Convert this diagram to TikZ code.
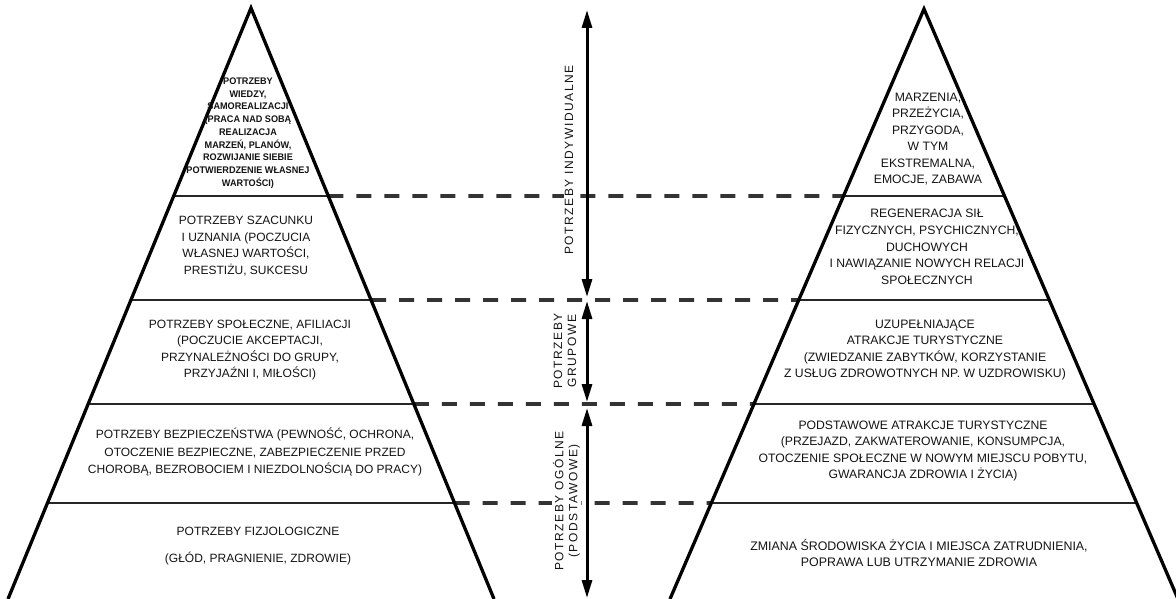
\documentclass[tikz,border=0pt]{standalone}
\usepackage{fontspec}
\setmainfont{Liberation Sans}
\newfontfamily\spacedfont[LetterSpace=13]{Liberation Sans}
\newfontfamily\densefont[FakeStretch=0.95]{Liberation Sans Bold}
\usetikzlibrary{arrows.meta,calc}
\begin{document}
\begin{tikzpicture}[x=1pt,y=-1pt,
  edge/.style={line width=3.3pt,line join=miter},
  levelline/.style={line width=2.6pt,black!85},
  dashlink/.style={line width=3.6pt,black!80,dash pattern=on 15pt off 13pt},
  spanarrow/.style={line width=3pt,{Triangle[length=18pt,width=10pt]}-{Triangle[length=18pt,width=10pt]}},
  txt/.style={align=center,inner sep=0pt,text=black!92,font=\fontsize{12}{16.6}\selectfont},
  rtxt/.style={txt,font=\fontsize{12.2}{16.4}\selectfont},
  smalltxt/.style={align=center,inner sep=0pt,text=black!92,font=\densefont\fontsize{9.6}{12.7}\selectfont},
  vlab/.style={align=center,inner sep=1pt,fill=white,rotate=90,text=black!92,font=\spacedfont\fontsize{12}{14}\selectfont}]
\useasboundingbox (0,0) rectangle (1176,599);
\clip (0,0) rectangle (1176,599);
\fill[white] (0,0) rectangle (1176,599);
% pyramid corners
\coordinate (LA) at (251,8);
\coordinate (LL) at (8,599);
\coordinate (LR) at (494,599);
\coordinate (RA) at (924,9);
\coordinate (RL) at (670,599);
\coordinate (RR) at (1178,599);
% level points
\foreach \y/\n in {196/1,300/2,404/3,503/4} {
  \coordinate (Ll\n) at ($(LA)!{(\y-8)/591}!(LL)$);
  \coordinate (Lr\n) at ($(LA)!{(\y-8)/591}!(LR)$);
  \coordinate (Rl\n) at ($(RA)!{(\y-9)/590}!(RL)$);
  \coordinate (Rr\n) at ($(RA)!{(\y-9)/590}!(RR)$);
}
\foreach \n in {1,2,3,4} {
  \draw[levelline] (Ll\n) -- (Lr\n);
  \draw[levelline] (Rl\n) -- (Rr\n);
  \draw[dashlink] (Lr\n) -- (Rl\n);
}
\draw[edge] (LL) -- (LA) -- (LR);
\draw[edge] (RL) -- (RA) -- (RR);
% labels of the spans
\node[vlab] (v1) at (569,160) {POTRZEBY INDYWIDUALNE};
\node[vlab] (v2) at (565,351) {POTRZEBY\\GRUPOWE};
\node[vlab] (v3) at (566.5,501) {POTRZEBY OGÓLNE\\(PODSTAWOWE)};
% arrows
\coordinate (a1) at (587,10);
\coordinate (a2) at (587,297);
\coordinate (a3) at (587,301);
\coordinate (a4) at (587,402);
\coordinate (a5) at (587,408);
\coordinate (a6) at (587,598);
\draw[spanarrow] (a1) -- (a2);
\draw[spanarrow] (a3) -- (a4);
\draw[spanarrow] (a5) -- (a6);
% left texts
\node[smalltxt] (t1) at (248,133) {POTRZEBY\\WIEDZY,\\SAMOREALIZACJI\\(PRACA NAD SOBĄ\\REALIZACJA\\MARZEŃ, PLANÓW,\\ROZWIJANIE SIEBIE\\POTWIERDZENIE WŁASNEJ\\WARTOŚCI)};
\node[txt] (t2) at (246,246) {POTRZEBY SZACUNKU\\I UZNANIA (POCZUCIA\\WŁASNEJ WARTOŚCI,\\PRESTIŻU, SUKCESU};
\node[txt] (t3) at (250,350) {POTRZEBY SPOŁECZNE, AFILIACJI\\(POCZUCIE AKCEPTACJI,\\PRZYNALEŻNOŚCI DO GRUPY,\\PRZYJAŹNI I, MIŁOŚCI)};
\node[txt,font=\fontsize{12}{17.5}\selectfont] (t4) at (255,452) {POTRZEBY BEZPIECZEŃSTWA (PEWNOŚĆ, OCHRONA,\\OTOCZENIE BEZPIECZNE, ZABEZPIECZENIE PRZED\\CHOROBĄ, BEZROBOCIEM I NIEZDOLNOŚCIĄ DO PRACY)};
\node[txt,font=\fontsize{12}{27}\selectfont] (t5) at (258,546) {POTRZEBY FIZJOLOGICZNE\\(GŁÓD, PRAGNIENIE, ZDROWIE)};
% right texts
\node[rtxt] (r1) at (928,139) {MARZENIA,\\PRZEŻYCIA,\\PRZYGODA,\\W TYM\\EKSTREMALNA,\\EMOCJE, ZABAWA};
\node[rtxt,font=\fontsize{12.2}{16.7}\selectfont] (r2) at (927,247) {REGENERACJA SIŁ\\FIZYCZNYCH, PSYCHICZNYCH,\\DUCHOWYCH\\I NAWIĄZANIE NOWYCH RELACJI\\SPOŁECZNYCH};
\node[rtxt,font=\fontsize{12.2}{16.3}\selectfont] (r3) at (925,350) {UZUPEŁNIAJĄCE\\ATRAKCJE TURYSTYCZNE\\(ZWIEDZANIE ZABYTKÓW, KORZYSTANIE\\Z USŁUG ZDROWOTNYCH NP. W UZDROWISKU)};
\node[rtxt,font=\fontsize{12.2}{16.3}\selectfont] (r4) at (923,451) {PODSTAWOWE ATRAKCJE TURYSTYCZNE\\(PRZEJAZD, ZAKWATEROWANIE, KONSUMPCJA,\\OTOCZENIE SPOŁECZNE W NOWYM MIEJSCU POBYTU,\\GWARANCJA ZDROWIA I ŻYCIA)};
\node[rtxt,font=\fontsize{12.4}{16}\selectfont] (r5) at (919,553) {ZMIANA ŚRODOWISKA ŻYCIA I MIEJSCA ZATRUDNIENIA,\\POPRAWA LUB UTRZYMANIE ZDROWIA};
\end{tikzpicture}
\end{document}
